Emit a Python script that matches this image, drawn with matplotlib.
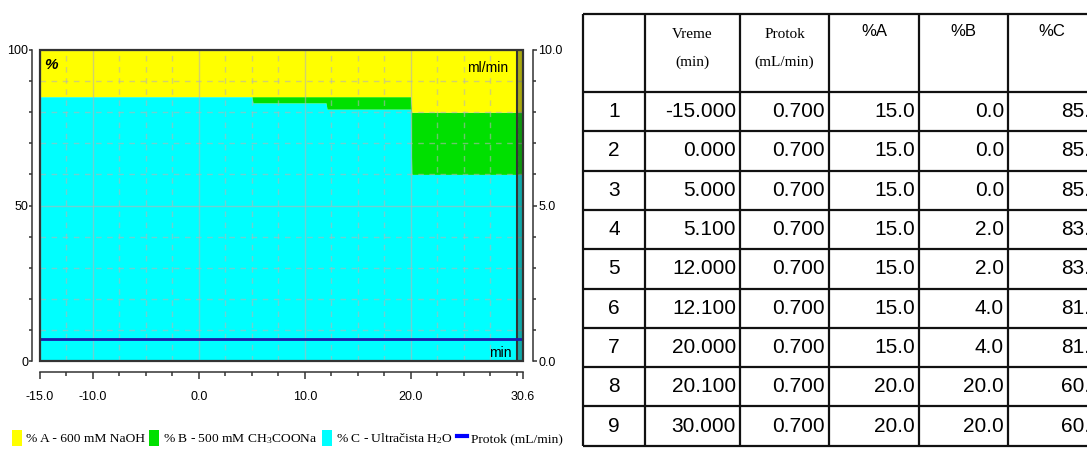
import numpy as np
import matplotlib
matplotlib.use('Agg')
import matplotlib.pyplot as plt
from matplotlib.patches import Patch, Rectangle
from matplotlib.lines import Line2D

# gradient program (values from the table)
rows   = [1, 2, 3, 4, 5, 6, 7, 8, 9]
vreme  = [-15.0, 0.0, 5.0, 5.1, 12.0, 12.1, 20.0, 20.1, 30.0]
protok = [0.7, 0.7, 0.7, 0.7, 0.7, 0.7, 0.7, 0.7, 0.7]
pct_a  = [15.0, 15.0, 15.0, 15.0, 15.0, 15.0, 15.0, 20.0, 20.0]
pct_b  = [0.0, 0.0, 0.0, 2.0, 2.0, 4.0, 4.0, 20.0, 20.0]
pct_c  = [85.0, 85.0, 85.0, 83.0, 83.0, 81.0, 81.0, 60.0, 60.0]
t_kraj = 30.6

x_ticks  = [-15.0, -10.0, 0.0, 10.0, 20.0, 30.6]
x_labels = ['-15.0', '-10.0', '0.0', '10.0', '20.0', '30.6']
y_ticks  = [0, 50, 100]
y_labels = ['0', '50', '100']
f_ticks  = [0.0, 5.0, 10.0]
f_labels = ['0.0', '5.0', '10.0']

headers = ['', 'Vreme\n(min)', 'Protok\n(mL/min)', '%A', '%B', '%C']
leg_labels = ['% A - 600 mM NaOH', '% B - 500 mM CH$_3$COONa',
              '% C - Ultračista H$_2$O', 'Protok (mL/min)']

yellow, green, cyan, blue = '#ffff00', '#00e000', '#00ffff', '#1a1aa8'
sans  = ['Liberation Sans', 'DejaVu Sans']
serif = ['Liberation Serif', 'DejaVu Serif']

plt.rcParams['font.family'] = sans
plt.rcParams['mathtext.fontset'] = 'custom'
plt.rcParams['mathtext.rm'] = 'Liberation Serif'
plt.rcParams['mathtext.it'] = 'Liberation Serif:italic'

W, H = 1087, 449
fig = plt.figure(figsize=(W/100, H/100), dpi=100)

# ---- gradient plot ----
ax = fig.add_axes([40/W, 1-361/H, 483/W, 311/H])
t = np.append(vreme, t_kraj)
a = np.append(pct_a, pct_a[-1])
b = np.append(pct_b, pct_b[-1])
c = np.append(pct_c, pct_c[-1])
f = np.append(protok, protok[-1])

ax.fill_between(t, 0, c, color=cyan, lw=0)
ax.fill_between(t, c, c+b, color=green, lw=0)
ax.fill_between(t, c+b, c+b+a, color=yellow, lw=0)
ax.axvspan(vreme[-1], t_kraj, color='#2a2a2a', alpha=0.4, lw=0, zorder=3)
ax.axvline(vreme[-1], color='#333333', lw=1.5, zorder=3)

ax.set_xlim(-15.0, t_kraj)
ax.set_ylim(0, 100)
ax.set_xticks(x_ticks, x_labels)
ax.set_xticks(np.arange(-12.5, 30.1, 2.5), minor=True)
ax.set_yticks(y_ticks, y_labels)
ax.set_yticks(np.arange(10, 100, 10), minor=True)
ax.set_axisbelow(False)
ax.grid(True, which='major', color='#b4b4b4', alpha=0.6, lw=1)
ax.grid(True, which='minor', color='#b4b4b4', alpha=0.6, lw=1, ls=(0, (4, 4)))

ax.spines['left'].set_position(('outward', 5.5))
ax.spines['bottom'].set_position(('outward', 8))
ax.spines['top'].set_visible(False)
ax.spines['right'].set_visible(False)
for s in ['left', 'bottom']:
    ax.spines[s].set_color('#333333')
    ax.spines[s].set_linewidth(1.1)
ax.tick_params(axis='x', which='major', length=5, width=1.1, pad=8.5, labelsize=9, color='#333333')
ax.tick_params(axis='x', which='minor', length=3, width=1.1, color='#333333')
ax.tick_params(axis='y', which='major', length=2.5, width=1.1, pad=0.5, labelsize=9, color='#333333')
ax.tick_params(axis='y', which='minor', length=2, width=1.1, color='#333333')

ax.text(0.008, 0.975, '%', transform=ax.transAxes, ha='left', va='top',
        fontsize=11, fontweight='bold', style='italic')
ax.text(0.969, 0.965, 'ml/min', transform=ax.transAxes, ha='right', va='top', fontsize=10)
ax.text(0.977, 0.004, 'min', transform=ax.transAxes, ha='right', va='bottom', fontsize=10)

ax2 = ax.twinx()
ax2.plot(t, f, color=blue, lw=2)
ax2.set_ylim(0, 10)
ax2.set_yticks(f_ticks, f_labels)
ax2.set_yticks(np.arange(1, 10, 1), minor=True)
for s in ['left', 'top', 'bottom']:
    ax2.spines[s].set_visible(False)
ax2.spines['right'].set_position(('outward', 7))
ax2.spines['right'].set_color('#333333')
ax2.spines['right'].set_linewidth(1.1)
ax2.tick_params(axis='y', which='major', length=3, width=1.1, pad=1, labelsize=9, color='#333333')
ax2.tick_params(axis='y', which='minor', length=2, width=1.1, color='#333333')
ax2.add_patch(Rectangle((0, 0), 1, 1, transform=ax2.transAxes, fill=False,
                        ec='#333333', lw=1.6, clip_on=False, zorder=5))

handles = [Patch(facecolor=yellow, edgecolor='none'),
           Patch(facecolor=green, edgecolor='none'),
           Patch(facecolor=cyan, edgecolor='none'),
           Line2D([], [], color='#0000ff', lw=3)]
fig.legend(handles, leg_labels, loc='center left', bbox_to_anchor=(12/W, 1-438/H),
           ncol=4, frameon=False, prop={'family': serif, 'size': 9.7},
           handlelength=0.75, handleheight=1.5, handletextpad=0.3,
           columnspacing=0.3, borderaxespad=0.0, borderpad=0.0)

# ---- table ----
tax = fig.add_axes([0, 0, 1, 1])
tax.set_xlim(0, W)
tax.set_ylim(H, 0)
tax.axis('off')

col_x = [583, 645, 740, 829, 919, 1008, 1106]
top, head_b, row_h = 14, 92, 39.3
row_y = [top, head_b] + [head_b + row_h*(i+1) for i in range(len(rows))]

tax.hlines(row_y, col_x[0], col_x[-1], color='#111111', lw=1.6)
tax.vlines(col_x, row_y[0], row_y[-1], color='#111111', lw=1.6)

for j, h in enumerate(headers):
    xc = (col_x[j] + col_x[j+1]) / 2
    if '\n' in h:
        l1, l2 = h.split('\n')
        tax.text(xc, 34, l1, ha='center', va='center', family=serif, fontsize=11)
        tax.text(xc, 62, l2, ha='center', va='center', family=serif, fontsize=11)
    elif h:
        tax.text(min(xc, 1052), 31, h, ha='center', va='center', fontsize=12)

for i, r in enumerate(rows):
    yc = (row_y[i+1] + row_y[i+2]) / 2
    cells = [str(r), '%.3f' % vreme[i], '%.3f' % protok[i],
             '%.1f' % pct_a[i], '%.1f' % pct_b[i], '%.1f' % pct_c[i]]
    for j, s in enumerate(cells):
        if j == 0:
            tax.text((col_x[0] + col_x[1]) / 2, yc, s, ha='center', va='center', fontsize=15)
        else:
            tax.text(col_x[j+1] - 4, yc, s, ha='right', va='center', fontsize=15)

fig.savefig('out.png', dpi=100)
